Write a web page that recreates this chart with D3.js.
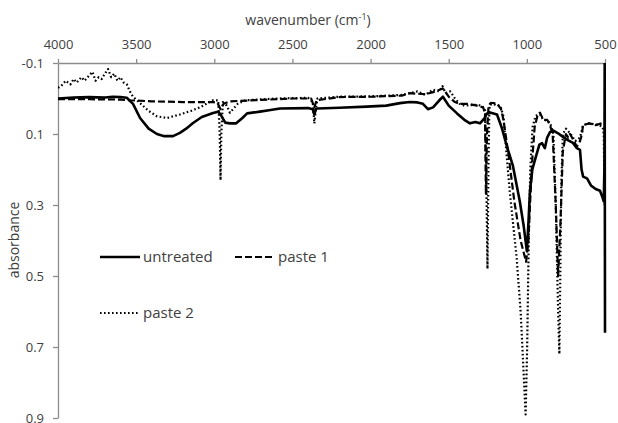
<!DOCTYPE html>
<html>
<head>
<meta charset="utf-8">
<script src="https://cdn.jsdelivr.net/npm/d3@7"></script>
<style>
  body { margin: 0; background: #fff; }
  text { font-family: "Open Sans", sans-serif; fill: #404040; }
</style>
</head>
<body>
<svg id="drawing_region"></svg>
<script>
// wavenumber (cm-1), absorbance
var untreated = [
  [4000,0.0],[3900,-0.003],[3800,-0.004],[3700,-0.003],[3650,-0.005],[3600,-0.004],[3560,-0.002],
  [3520,0.015],[3475,0.055],[3420,0.085],[3367,0.1],[3320,0.106],[3264,0.106],[3220,0.097],
  [3180,0.085],[3136,0.069],[3080,0.052],[3008,0.041],[2975,0.037],[2960,0.045],[2930,0.068],
  [2900,0.07],[2860,0.07],[2820,0.055],[2790,0.042],[2708,0.037],[2650,0.033],[2580,0.028],
  [2400,0.027],[2370,0.03],[2360,0.045],[2350,0.03],[2340,0.028],[2200,0.026],[2024,0.023],
  [1900,0.02],[1812,0.013],[1750,0.01],[1700,0.011],[1665,0.015],[1633,0.03],[1600,0.025],
  [1560,0.005],[1537,-0.005],[1500,0.02],[1447,0.042],[1400,0.06],[1364,0.07],[1330,0.066],
  [1300,0.07],[1270,0.055],[1255,0.042],[1230,0.04],[1191,0.045],[1160,0.083],[1127,0.136],
  [1089,0.19],[1045,0.29],[1020,0.36],[1000,0.43],[990,0.35],[980,0.26],[965,0.2],[948,0.173],
  [920,0.13],[903,0.126],[885,0.14],[870,0.11],[852,0.095],[833,0.09],[800,0.098],[769,0.108],
  [735,0.118],[705,0.125],[680,0.14],[660,0.145],[650,0.2],[640,0.22],[615,0.225],[590,0.245],
  [560,0.255],[532,0.26],[515,0.28],[508,0.29],[504,0.2],[502,-0.1],[500,0.66]
];

var paste1 = [
  [4000,0.002],[3800,0.002],[3600,0.003],[3540,0.005],[3400,0.008],[3200,0.01],[3008,0.01],
  [2980,0.012],[2960,0.03],[2940,0.015],[2900,0.008],[2700,0.004],[2500,0.0],[2380,0.0],
  [2360,0.025],[2345,0.005],[2200,-0.004],[2000,-0.005],[1800,-0.008],[1750,-0.015],
  [1650,-0.012],[1600,-0.018],[1537,-0.028],[1500,-0.005],[1460,0.01],[1428,0.015],
  [1380,0.015],[1320,0.02],[1280,0.025],[1268,0.04],[1262,0.27],[1255,0.1],[1245,0.02],
  [1230,0.012],[1191,0.014],[1165,0.03],[1150,0.06],[1120,0.15],[1080,0.29],[1040,0.4],
  [1005,0.46],[990,0.4],[980,0.3],[965,0.17],[950,0.08],[930,0.045],[916,0.04],[895,0.06],
  [870,0.06],[852,0.075],[835,0.1],[815,0.3],[800,0.5],[785,0.35],[770,0.15],[750,0.1],
  [735,0.11],[724,0.1],[705,0.115],[680,0.135],[660,0.12],[647,0.1],[641,0.075],[600,0.07],
  [560,0.075],[520,0.07],[505,0.07]
];

var paste2 = [
  [4000,-0.03],[3980,-0.035],[3950,-0.05],[3920,-0.04],[3900,-0.055],[3880,-0.045],[3850,-0.06],
  [3830,-0.05],[3800,-0.065],[3780,-0.075],[3760,-0.05],[3740,-0.06],[3720,-0.055],[3700,-0.07],
  [3680,-0.083],[3660,-0.06],[3640,-0.07],[3620,-0.05],[3600,-0.06],[3580,-0.045],[3560,-0.04],
  [3540,-0.02],[3520,-0.005],[3475,0.013],[3420,0.035],[3367,0.05],[3303,0.055],[3220,0.045],
  [3150,0.035],[3092,0.025],[3008,0.005],[2975,0.005],[2965,0.1],[2960,0.23],[2955,0.1],
  [2945,0.01],[2920,0.02],[2900,0.04],[2880,0.03],[2850,0.015],[2800,0.005],[2600,0.0],
  [2400,-0.002],[2370,0.01],[2360,0.07],[2350,0.03],[2340,0.0],[2200,-0.005],[2000,-0.006],
  [1800,-0.01],[1700,-0.02],[1650,-0.01],[1600,-0.025],[1560,-0.02],[1540,-0.035],[1520,-0.015],
  [1490,-0.02],[1460,0.0],[1430,0.015],[1400,0.02],[1330,0.018],[1290,0.02],[1268,0.03],
  [1260,0.2],[1252,0.48],[1246,0.2],[1240,0.03],[1236,0.018],[1217,0.015],[1190,0.02],
  [1170,0.02],[1150,0.05],[1110,0.26],[1065,0.45],[1040,0.6],[1022,0.76],[1008,0.89],
  [998,0.7],[988,0.4],[978,0.2],[963,0.08],[945,0.05],[930,0.045],[916,0.045],[895,0.06],
  [870,0.062],[850,0.07],[830,0.1],[815,0.3],[800,0.6],[792,0.72],[786,0.5],[780,0.25],
  [770,0.1],[750,0.085],[720,0.1],[690,0.12],[660,0.11],[640,0.075],[600,0.07],[540,0.075],
  [515,0.08],[508,0.1],[503,0.3]
];

var xTicks = [4000, 3500, 3000, 2500, 2000, 1500, 1000, 500];
var yTicks = [-0.1, 0.1, 0.3, 0.5, 0.7, 0.9];
var seriesNames = ["untreated", "paste 1", "paste 2"];

var config = {
  parent: '#drawing_region',
  width: 618,
  height: 423,
  margin: {top:63, right:13, bottom:5, left:58}
};

var styles = {
  "untreated": {width: 2.6, dash: null},
  "paste 1": {width: 2.2, dash: "7,3"},
  "paste 2": {width: 2.2, dash: "1.6,2.4"}
};

var svg = d3.select(config.parent)
  .attr('width', config.width)
  .attr('height', config.height);

var inner_width = config.width - config.margin.left - config.margin.right;
var inner_height = config.height - config.margin.top - config.margin.bottom;

var chart = svg.append('g')
  .attr('transform', `translate(${config.margin.left}, ${config.margin.top})`);

var xscale = d3.scaleLinear().domain([4000, 500]).range([0, inner_width]);
var yscale = d3.scaleLinear().domain([-0.1, 0.9]).range([0, inner_height]);

// axes
var xaxis = d3.axisTop(xscale).tickValues(xTicks).tickSize(4).tickPadding(10).tickSizeOuter(0)
  .tickFormat(d => String(d));
var yaxis = d3.axisLeft(yscale).tickValues(yTicks).tickSize(5).tickPadding(9).tickSizeOuter(0)
  .tickFormat(d => d.toFixed(1));

var xg = chart.append('g').call(xaxis);
var yg = chart.append('g').call(yaxis);
[xg, yg].forEach(g => {
  g.selectAll('path, line').attr('stroke', '#8c8c8c').attr('stroke-width', 1.3);
  g.selectAll('text').attr('font-size', 13).attr('fill', '#404040')
    .style('font-family', '"Open Sans", sans-serif');
});

// clip
chart.append('clipPath').attr('id', 'clip')
  .append('rect').attr('x', 0).attr('y', 0).attr('width', inner_width + 3).attr('height', inner_height);

var line = d3.line()
  .x(d => xscale(d[0]))
  .y(d => yscale(d[1]));

var allSeries = [untreated, paste1, paste2];
chart.append('g').attr('clip-path', 'url(#clip)')
  .selectAll('path')
  .data(allSeries)
  .join('path')
  .attr('d', d => line(d))
  .attr('fill', 'none')
  .attr('stroke', '#000')
  .attr('stroke-linejoin', 'round')
  .attr('stroke-width', (d, i) => styles[seriesNames[i]].width)
  .attr('stroke-dasharray', (d, i) => styles[seriesNames[i]].dash);

// titles
var title = svg.append('text')
  .attr('x', 308).attr('y', 25)
  .attr('text-anchor', 'middle')
  .attr('font-size', 14);
title.append('tspan').text('wavenumber (cm');
title.append('tspan').attr('font-size', 9).attr('dy', -5).text('-1');
title.append('tspan').attr('dy', 5).text(')');

svg.append('text')
  .attr('transform', 'translate(19, 240) rotate(-90)')
  .attr('text-anchor', 'middle')
  .attr('font-size', 14)
  .text('absorbance');

// legend
var legendPos = [[100, 257], [235, 257], [100, 313]];
var legend = svg.append('g').selectAll('g')
  .data(seriesNames)
  .join('g')
  .attr('transform', (d, i) => `translate(${legendPos[i][0]}, ${legendPos[i][1]})`);

legend.append('line')
  .attr('x1', 0).attr('x2', 40).attr('y1', 0).attr('y2', 0)
  .attr('stroke', '#000')
  .attr('stroke-width', d => styles[d].width)
  .attr('stroke-dasharray', d => styles[d].dash);

legend.append('text')
  .attr('x', 43).attr('y', 5)
  .attr('font-size', 15)
  .text(d => d);
</script>
</body>
</html>
